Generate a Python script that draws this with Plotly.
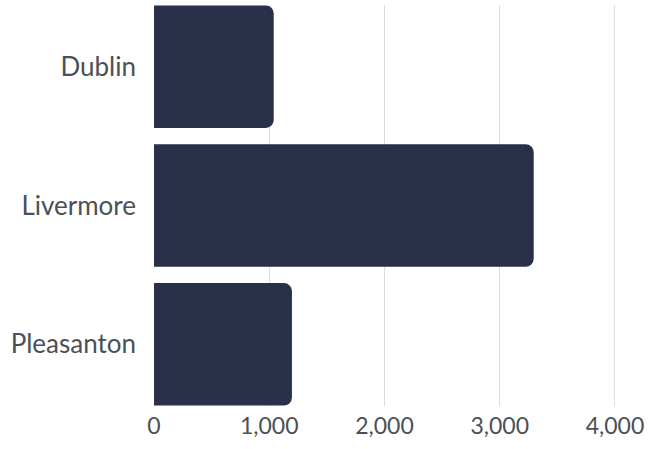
import plotly.graph_objects as go

categories = ["Dublin", "Livermore", "Pleasanton"]
values = [1039, 3295, 1197]
tick_vals = [0, 1000, 2000, 3000, 4000]
tick_text = ["0", "1,000", "2,000", "3,000", "4,000"]

fig = go.Figure(go.Bar(
    y=categories, x=values, orientation="h",
    marker=dict(color="#283149", line=dict(width=0)),
    width=0.882,
))
fig.update_layout(
    width=651, height=449,
    margin=dict(l=154, r=13, t=5, b=43, pad=0),
    paper_bgcolor="white", plot_bgcolor="white",
    barcornerradius=8,
    showlegend=False,
    font=dict(family="Lato", color="#4b5058"),
)
fig.update_xaxes(
    range=[0, 4200], tickvals=tick_vals, ticktext=tick_text,
    showgrid=True, gridcolor="#dddddd", gridwidth=1,
    zeroline=False, showline=False, ticks="", ticklen=0,
    tickfont=dict(size=23), ticklabelstandoff=4,
)
fig.update_yaxes(
    range=[2.444, -0.444], showgrid=False, zeroline=False, showline=False,
    ticks="", tickfont=dict(size=26), ticklabelstandoff=17,
)
fig.write_html(
    "out.html",
    config={"displayModeBar": False},
    post_script="document.body.style.margin='0';document.body.style.overflow='hidden';",
)
